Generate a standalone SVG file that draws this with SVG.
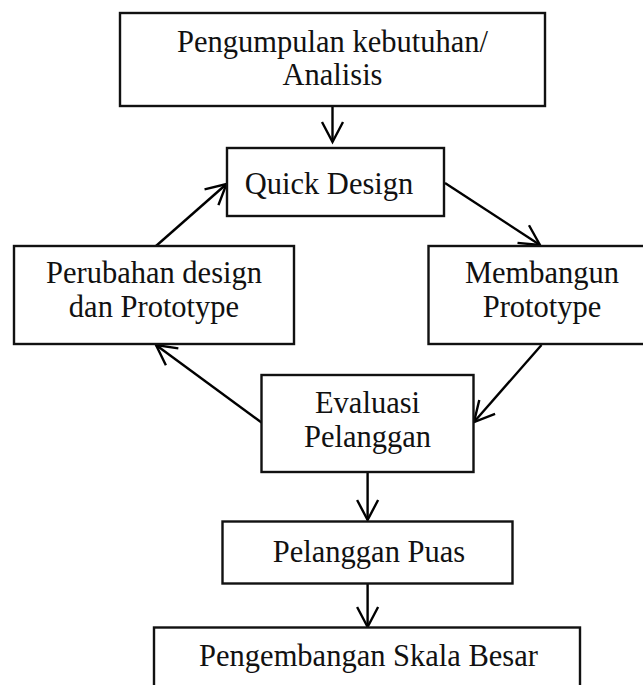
<svg xmlns="http://www.w3.org/2000/svg" width="643" height="685" viewBox="0 0 643 685">
<style>
.box{fill:#fff;stroke:#111;stroke-width:2.4}
.t{font-family:"Liberation Serif","Times New Roman",serif;font-size:30.5px;fill:#111;text-anchor:middle}
.c{fill:none;stroke:#000;stroke-width:2.4}
</style>
<defs>
<marker id="ah" markerUnits="userSpaceOnUse" markerWidth="26" markerHeight="28" viewBox="-23 -14 26 28" refX="0" refY="0" orient="auto">
<path d="M-20,-10.5 L0,0 L-20,10.5" fill="none" stroke="#000" stroke-width="2.4"/>
</marker>
</defs>
<rect width="643" height="685" fill="#fff"/>
<g id="connectors">
<line class="c" x1="332.5" y1="106" x2="332.5" y2="142" marker-end="url(#ah)"/>
<line class="c" x1="445" y1="183" x2="540" y2="245" marker-end="url(#ah)"/>
<line class="c" x1="541.5" y1="345" x2="474" y2="422" marker-end="url(#ah)"/>
<line class="c" x1="261.5" y1="422.5" x2="156" y2="345" marker-end="url(#ah)"/>
<line class="c" x1="156" y1="246" x2="226.5" y2="184" marker-end="url(#ah)"/>
<line class="c" x1="367.6" y1="472" x2="367.6" y2="520" marker-end="url(#ah)"/>
<line class="c" x1="367.6" y1="583" x2="367.6" y2="627" marker-end="url(#ah)"/>
</g>
<g id="analisis">
<rect class="box" x="120" y="13" width="425" height="93"/>
<text class="t" x="332.5" y="52">Pengumpulan kebutuhan/</text>
<text class="t" x="332.5" y="85">Analisis</text>
</g>
<g id="quick-design">
<rect class="box" x="227" y="148" width="217" height="68"/>
<text class="t" x="329" y="194">Quick Design</text>
</g>
<g id="perubahan">
<rect class="box" x="14" y="246" width="280" height="98"/>
<text class="t" x="154" y="283">Perubahan design</text>
<text class="t" x="154" y="317">dan Prototype</text>
</g>
<g id="membangun">
<rect class="box" x="428.5" y="246" width="228" height="98"/>
<text class="t" x="542" y="283">Membangun</text>
<text class="t" x="542" y="317">Prototype</text>
</g>
<g id="evaluasi">
<rect class="box" x="261.5" y="375" width="212" height="97"/>
<text class="t" x="367.5" y="413">Evaluasi</text>
<text class="t" x="367.5" y="447">Pelanggan</text>
</g>
<g id="pelanggan-puas">
<rect class="box" x="222.5" y="521.5" width="290" height="62"/>
<text class="t" x="369" y="562">Pelanggan Puas</text>
</g>
<g id="pengembangan">
<rect class="box" x="154" y="627.5" width="426" height="80"/>
<text class="t" x="368.5" y="666">Pengembangan Skala Besar</text>
</g>
</svg>
